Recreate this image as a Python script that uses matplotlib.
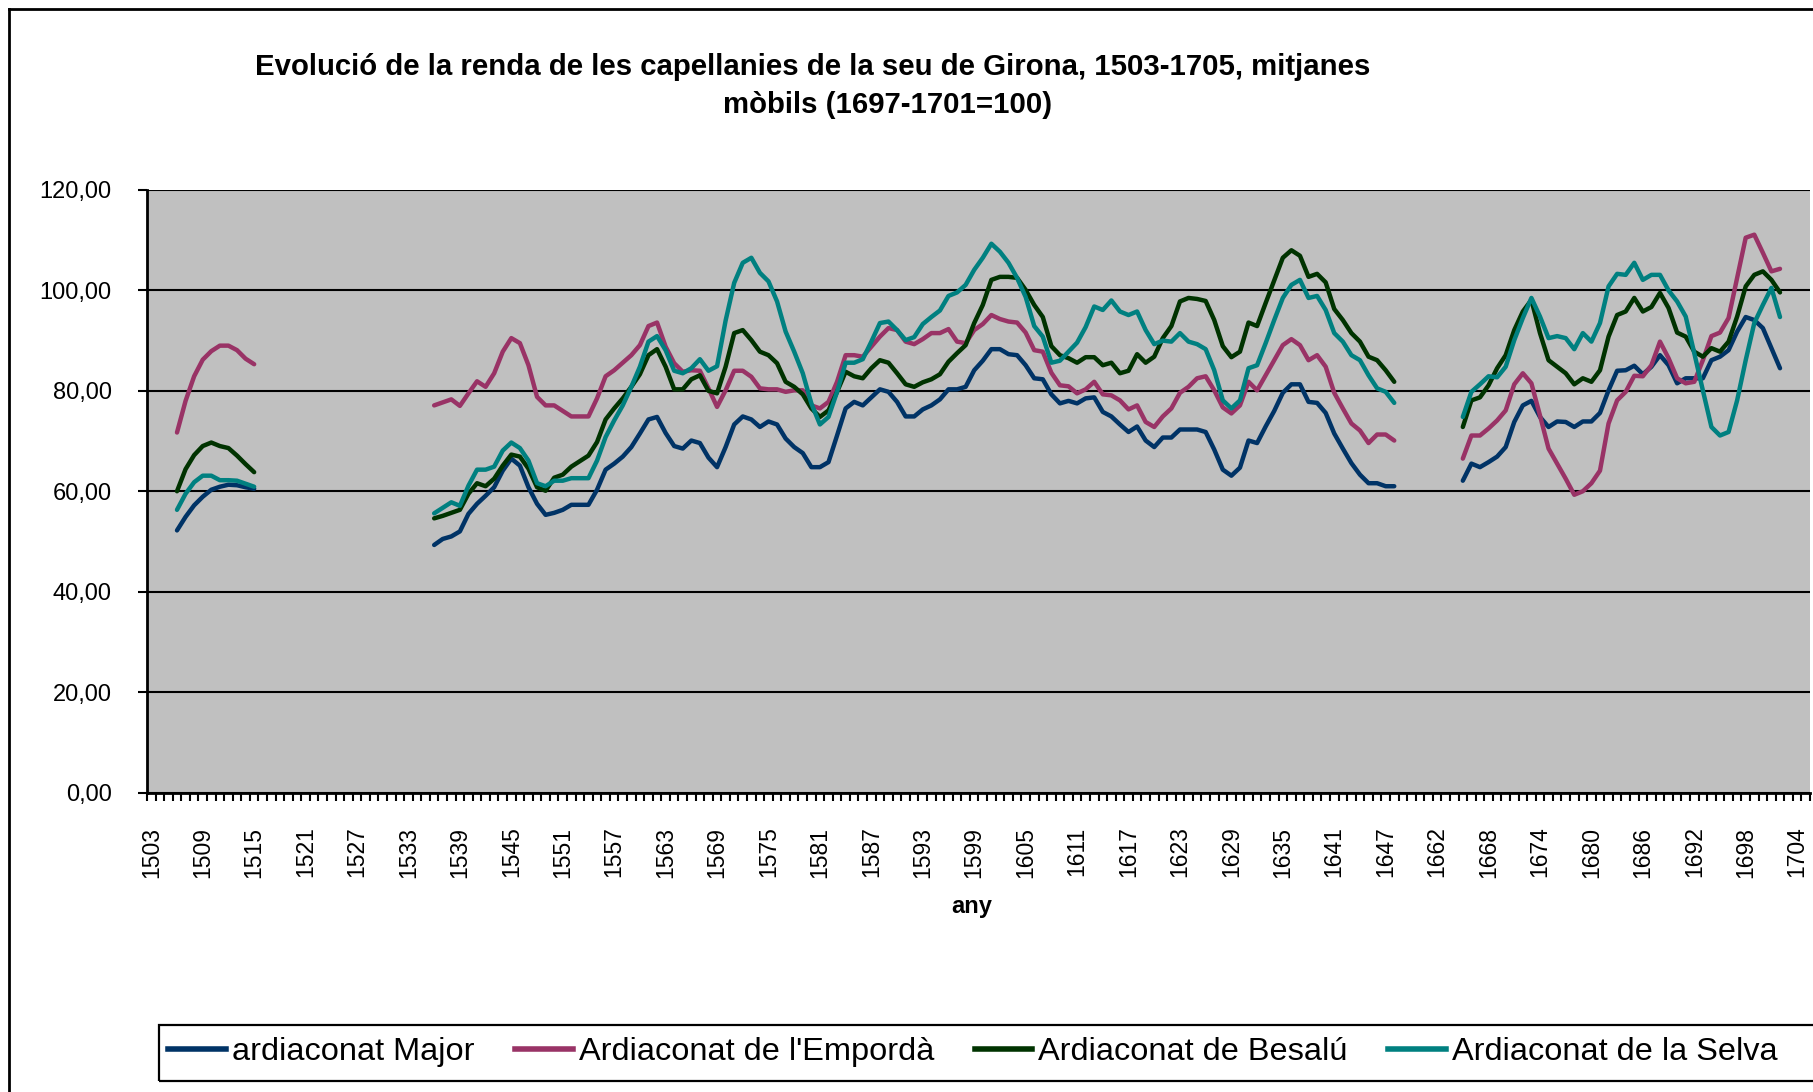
import numpy as np
import matplotlib
matplotlib.use("Agg")
import matplotlib.pyplot as plt
from matplotlib.lines import Line2D
from matplotlib.patches import Rectangle

plt.rcParams['font.family'] = ['Liberation Sans', 'DejaVu Sans']

# ---- categories (years on the category axis) ----
years = list(range(1503, 1653)) + list(range(1662, 1706))
label_every = 6

series_names = ["ardiaconat Major", "Ardiaconat de l'Empordà",
                "Ardiaconat de Besalú", "Ardiaconat de la Selva"]
series_colors = ["#003366", "#993366", "#003300", "#008080"]

seg_starts = [1506, 1536, 1665]

# ---- ardiaconat Major ----
major_1 = [52.2, 54.9, 57.2, 58.9, 60.3, 60.9, 61.3, 61.2, 60.8, 60.5]
major_2 = [49.3, 50.5, 51.0, 52.0, 55.5, 57.5, 59.1, 60.8, 64.1, 66.5,
           65.1, 60.8, 57.5, 55.3, 55.7, 56.3, 57.3, 57.3, 57.3, 60.3,
           64.3, 65.5, 66.9, 68.8, 71.5, 74.3, 74.8, 71.6, 69.0, 68.5,
           70.1, 69.6, 66.7, 64.8, 68.8, 73.3, 74.9, 74.3, 72.8, 73.9,
           73.3, 70.5, 68.8, 67.6, 64.8, 64.8, 65.8, 71.1, 76.5, 77.8,
           77.1, 78.7, 80.3, 79.8, 77.8, 74.9, 74.9, 76.3, 77.1, 78.3,
           80.3, 80.3, 80.8, 84.1, 86.0, 88.3, 88.3, 87.3, 87.1, 85.1,
           82.5, 82.3, 79.3, 77.5, 78.0, 77.5, 78.5, 78.7, 75.8, 74.9,
           73.3, 71.8, 72.9, 70.1, 68.8, 70.7, 70.7, 72.3, 72.3, 72.3,
           71.8, 68.3, 64.3, 63.1, 64.7, 70.1, 69.6, 72.9, 76.0, 79.6,
           81.3, 81.3, 77.8, 77.6, 75.6, 71.5, 68.5, 65.6, 63.3, 61.6,
           61.6, 61.0, 61.0]
major_3 = [62.1, 65.5, 64.8, 65.8, 66.9, 68.8, 73.8, 77.1, 78.0, 74.8,
           72.8, 73.9, 73.8, 72.8, 73.9, 73.9, 75.6, 80.1, 84.0, 84.1,
           85.0, 83.3, 84.8, 87.1, 85.1, 81.5, 82.5, 82.5, 82.5, 86.1,
           86.8, 88.1, 91.8, 94.7, 94.1, 92.5, 88.5, 84.5]

# ---- Ardiaconat de l'Empordà ----
emporda_1 = [71.7, 78.0, 82.9, 86.2, 87.9, 89.0, 89.0, 88.1, 86.4, 85.3]
emporda_2 = [77.1, 77.7, 78.3, 77.0, 79.5, 81.9, 80.8, 83.5, 87.8, 90.5,
             89.5, 85.1, 78.8, 77.1, 77.1, 76.0, 74.9, 74.9, 74.9, 78.5,
             82.9, 84.1, 85.6, 87.1, 89.1, 92.9, 93.6, 88.8, 85.5, 83.8,
             84.1, 84.0, 80.5, 76.8, 80.1, 84.0, 84.0, 82.8, 80.5, 80.3,
             80.3, 79.8, 80.1, 80.1, 77.1, 76.5, 77.8, 81.8, 87.1, 87.1,
             86.8, 88.8, 90.8, 92.5, 92.1, 89.8, 89.3, 90.3, 91.5, 91.5,
             92.3, 89.8, 89.5, 92.1, 93.3, 95.1, 94.3, 93.8, 93.6, 91.6,
             88.1, 87.8, 83.6, 81.1, 80.9, 79.5, 80.3, 81.8, 79.3, 79.1,
             78.1, 76.3, 77.1, 73.8, 72.8, 74.9, 76.5, 79.6, 80.8, 82.5,
             82.9, 80.1, 76.7, 75.5, 77.1, 81.8, 80.1, 83.1, 86.1, 89.1,
             90.3, 89.1, 86.1, 87.1, 84.8, 79.6, 76.5, 73.5, 72.1, 69.6,
             71.3, 71.3, 70.1]
emporda_3 = [66.5, 71.1, 71.1, 72.5, 74.1, 76.1, 81.3, 83.5, 81.5, 75.1,
             68.5, 65.5, 62.5, 59.3, 60.0, 61.6, 64.1, 73.5, 78.1, 79.8,
             83.0, 82.9, 85.1, 89.8, 86.5, 82.5, 81.5, 81.8, 86.1, 90.9,
             91.6, 94.5, 102.5, 110.5, 111.1, 107.5, 103.8, 104.3]

# ---- Ardiaconat de Besalú ----
besalu_1 = [60.0, 64.4, 67.2, 69.0, 69.7, 69.0, 68.6, 67.1, 65.4, 63.8]
besalu_2 = [54.6, 55.1, 55.7, 56.3, 59.5, 61.6, 61.0, 62.5, 65.1, 67.3,
            66.9, 64.5, 60.8, 60.1, 62.7, 63.3, 64.9, 66.0, 67.1, 69.8,
            74.3, 76.5, 78.5, 80.8, 83.3, 87.1, 88.3, 84.8, 80.3, 80.3,
            82.3, 83.1, 80.0, 79.5, 84.8, 91.5, 92.1, 90.1, 87.8, 87.1,
            85.5, 81.8, 80.8, 79.3, 76.5, 74.8, 76.1, 79.8, 83.8, 82.9,
            82.5, 84.5, 86.1, 85.6, 83.5, 81.3, 80.8, 81.7, 82.3, 83.3,
            85.8, 87.5, 89.1, 93.5, 97.1, 102.1, 102.7, 102.7, 102.5, 100.1,
            97.1, 94.7, 88.9, 87.1, 86.5, 85.6, 86.7, 86.7, 85.1, 85.6,
            83.5, 84.0, 87.3, 85.6, 86.8, 90.5, 92.9, 97.8, 98.5, 98.3,
            97.9, 94.1, 88.9, 86.7, 87.8, 93.6, 92.9, 97.5, 102.0, 106.5,
            108.0, 106.9, 102.7, 103.3, 101.6, 96.3, 94.1, 91.5, 89.8, 86.8,
            86.1, 84.1, 81.8]
besalu_3 = [72.8, 78.1, 78.7, 81.1, 84.5, 87.1, 92.1, 95.8, 98.1, 91.5,
            86.1, 84.8, 83.5, 81.3, 82.5, 81.8, 84.1, 90.8, 95.1, 95.8,
            98.5, 95.8, 96.7, 99.5, 96.5, 91.6, 90.8, 87.8, 86.8, 88.5,
            87.8, 89.8, 94.8, 100.8, 103.1, 103.8, 102.1, 99.6]

# ---- Ardiaconat de la Selva ----
selva_1 = [56.3, 59.5, 61.8, 63.1, 63.1, 62.2, 62.2, 62.1, 61.5, 60.9]
selva_2 = [55.6, 56.7, 57.8, 57.1, 61.1, 64.3, 64.3, 64.9, 68.1, 69.7,
           68.6, 66.1, 61.6, 61.0, 62.1, 62.1, 62.6, 62.6, 62.6, 66.1,
           70.8, 74.1, 77.1, 80.8, 84.8, 89.8, 90.9, 88.1, 84.0, 83.5,
           84.5, 86.3, 84.0, 84.9, 94.0, 101.5, 105.5, 106.5, 103.5, 101.8,
           97.8, 91.8, 87.8, 83.5, 77.5, 73.3, 74.8, 79.8, 85.6, 85.6,
           86.3, 89.8, 93.5, 93.8, 92.1, 90.1, 90.7, 93.3, 94.7, 96.0,
           98.9, 99.6, 101.1, 104.1, 106.5, 109.3, 107.7, 105.5, 102.5, 98.7,
           92.9, 90.8, 85.6, 86.0, 87.8, 89.6, 92.7, 96.8, 96.1, 98.0,
           95.8, 95.1, 95.8, 92.1, 89.3, 90.0, 89.8, 91.5, 89.8, 89.3,
           88.3, 84.1, 78.1, 76.5, 78.1, 84.5, 85.1, 89.5, 94.1, 98.5,
           101.1, 102.1, 98.5, 98.9, 96.1, 91.5, 89.8, 87.1, 86.1, 83.1,
           80.5, 79.8, 77.6]
selva_3 = [74.8, 79.8, 81.3, 82.9, 82.7, 84.8, 90.1, 94.5, 98.5, 94.8,
           90.5, 90.9, 90.5, 88.3, 91.5, 89.8, 93.5, 100.8, 103.3, 103.1,
           105.5, 102.1, 103.1, 103.1, 100.0, 97.8, 94.8, 87.5, 80.1, 72.8,
           71.1, 71.8, 78.1, 86.1, 93.5, 97.1, 100.5, 94.7]

yticks = [0, 20, 40, 60, 80, 100, 120]
ytick_labels = ["0,00", "20,00", "40,00", "60,00", "80,00", "100,00", "120,00"]

title_line1 = "Evolució de la renda de les capellanies de la seu de Girona, 1503-1705, mitjanes"
title_line2 = "mòbils (1697-1701=100)"
x_title = "any"

all_segments = [
    [major_1, major_2, major_3],
    [emporda_1, emporda_2, emporda_3],
    [besalu_1, besalu_2, besalu_3],
    [selva_1, selva_2, selva_3],
]


def build(segs):
    vals = np.full(len(years), np.nan)
    for start, seg in zip(seg_starts, segs):
        i0 = years.index(start)
        vals[i0:i0 + len(seg)] = seg
    return vals


W, H = 1813, 1092
fig = plt.figure(figsize=(W / 100, H / 100), dpi=100)
fig.patch.set_facecolor("white")

left, right, top, bottom = 147, 1810, 190, 792.5
ax = fig.add_axes([left / W, 1 - bottom / H, (right - left) / W, (bottom - top) / H])
ax.set_facecolor("#C0C0C0")

n = len(years)
xpos = np.arange(n) + 0.5
for segs, name, col in zip(all_segments, series_names, series_colors):
    vals = build(segs)
    ax.plot(xpos, vals, color=col, lw=3.2, solid_joinstyle="round",
            solid_capstyle="round", label=name, zorder=3)

ax.set_xlim(0, n)
ax.set_ylim(0, 120)

ax.set_yticks(yticks)
ax.set_yticklabels(ytick_labels, fontsize=17)
ax.yaxis.grid(True, color="black", lw=1.5, zorder=1)
ax.set_axisbelow(True)

lab_idx = list(range(0, n, label_every))
ax.set_xticks([i + 0.5 for i in lab_idx])
ax.set_xticklabels([str(years[i]) for i in lab_idx], rotation=90, fontsize=16.5)
ax.set_xticks(np.arange(0, n + 1), minor=True)
ax.tick_params(axis="x", which="major", length=0, pad=24.5)
ax.tick_params(axis="x", which="minor", length=6, width=1.5, direction="out")
ax.tick_params(axis="y", which="major", length=6.5, width=1.5, direction="out", pad=19)

for s in ["top", "right"]:
    ax.spines[s].set_visible(False)
for s in ["left", "bottom"]:
    ax.spines[s].set_linewidth(2.0)
    ax.spines[s].set_color("black")

# titles
fig.text(813 / W, 1 - 67 / H, title_line1, ha="center", va="center",
         fontsize=21.2, fontweight="bold")
fig.text(768 * 1.1563 / W, 1 - 105 / H, title_line2, ha="center", va="center",
         fontsize=21.2, fontweight="bold")
fig.text(972 / W, 1 - 906 / H, x_title, ha="center", va="center",
         fontsize=17, fontweight="bold")

# outer chart border (left and top visible)
fig.add_artist(Line2D([9 / W, 9 / W], [0, 1 - 9 / H], transform=fig.transFigure,
                      color="black", lw=2))
fig.add_artist(Line2D([9 / W, 1.0], [1 - 9 / H, 1 - 9 / H], transform=fig.transFigure,
                      color="black", lw=2))

# legend box
fig.add_artist(Rectangle((159 / W, 1 - 1081 / H), (W + 20 - 159) / W, (1081 - 1025) / H,
                         transform=fig.transFigure, fill=False, edgecolor="black",
                         lw=1.6, clip_on=False))
leg_handles = [Line2D([], [], color=c, lw=4) for c in series_colors]
fig.legend(leg_handles, series_names, loc="center left",
           bbox_to_anchor=(168 / W, 1 - 1052 / H), ncol=4, frameon=False,
           fontsize=23.4, handlelength=1.78, handletextpad=0.18, columnspacing=1.25,
           borderpad=0, borderaxespad=0)

fig.savefig("out.png", dpi=100)
